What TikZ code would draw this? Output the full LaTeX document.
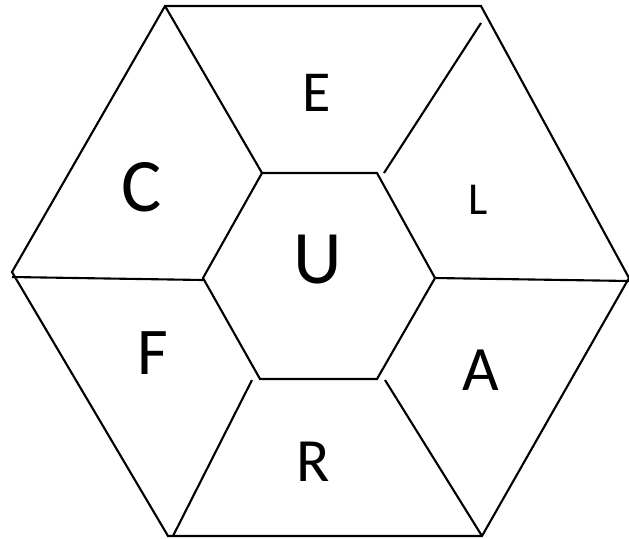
\documentclass[tikz,border=0pt]{standalone}
\usepackage{fontspec}
\setmainfont{Carlito}
\tikzset{
    edge/.style={line width=1.2pt, black},
    letter/.style={inner sep=0pt, anchor=center},
}
\newcommand{\fsz}[1]{\fontsize{#1}{#1}\selectfont}
\begin{document}
\begin{tikzpicture}[x=0.02cm, y=-0.02cm]
    \useasboundingbox (0,0) rectangle (629,538);

    % Outer hexagon
    \coordinate (oTL) at (165,6);
    \coordinate (oTR) at (481,6);
    \coordinate (oR) at (629,278);
    \coordinate (oBR) at (482,536);
    \coordinate (oBL) at (168,536);
    \coordinate (oL) at (12,272);
    \draw[edge, line join=miter] (oTL) -- (oTR) -- (oR) -- (oBR) -- (oBL) -- (oL) -- cycle;

    % Inner hexagon
    \coordinate (iTL) at (262,173);
    \coordinate (iTR) at (377,173);
    \coordinate (iR) at (435,278);
    \coordinate (iBR) at (377,379);
    \coordinate (iBL) at (260,379);
    \coordinate (iL) at (203,278);
    \draw[edge] (iTL) -- (iTR) -- (iR) -- (iBR) -- (iBL) -- (iL) -- cycle;

    % Spokes (some a little off the corners)
    \coordinate (sTR1) at (384,173);
    \coordinate (sTR2) at (481,23);
    \coordinate (sL1) at (12,277);
    \coordinate (sL2) at (203,280);
    \coordinate (sR2) at (629,281);
    \coordinate (sBL1) at (252,380);
    \coordinate (sBL2) at (173,536);
    \coordinate (sBR1) at (385,380);
    \draw[edge] (oTL) -- (iTL);
    \draw[edge] (sTR1) -- (sTR2);
    \draw[edge] (sL1) -- (sL2);
    \draw[edge] (iR) -- (sR2);
    \draw[edge] (sBL1) -- (sBL2);
    \draw[edge] (sBR1) -- (oBR);

    % Labels
    \node[letter] (E) at (317,93) {\fsz{33}E};
    \node[letter] (C) at (142,187) {\fsz{43}C};
    \node[letter] (L) at (478,200) {\fsz{26}L};
    \node[letter] (U) at (318,260) {\fsz{43}U};
    \node[letter] (F) at (153,353) {\fsz{38}F};
    \node[letter] (A) at (481,370) {\fsz{36}A};
    \node[letter] (R) at (313,462) {\fsz{35}R};
\end{tikzpicture}
\end{document}
